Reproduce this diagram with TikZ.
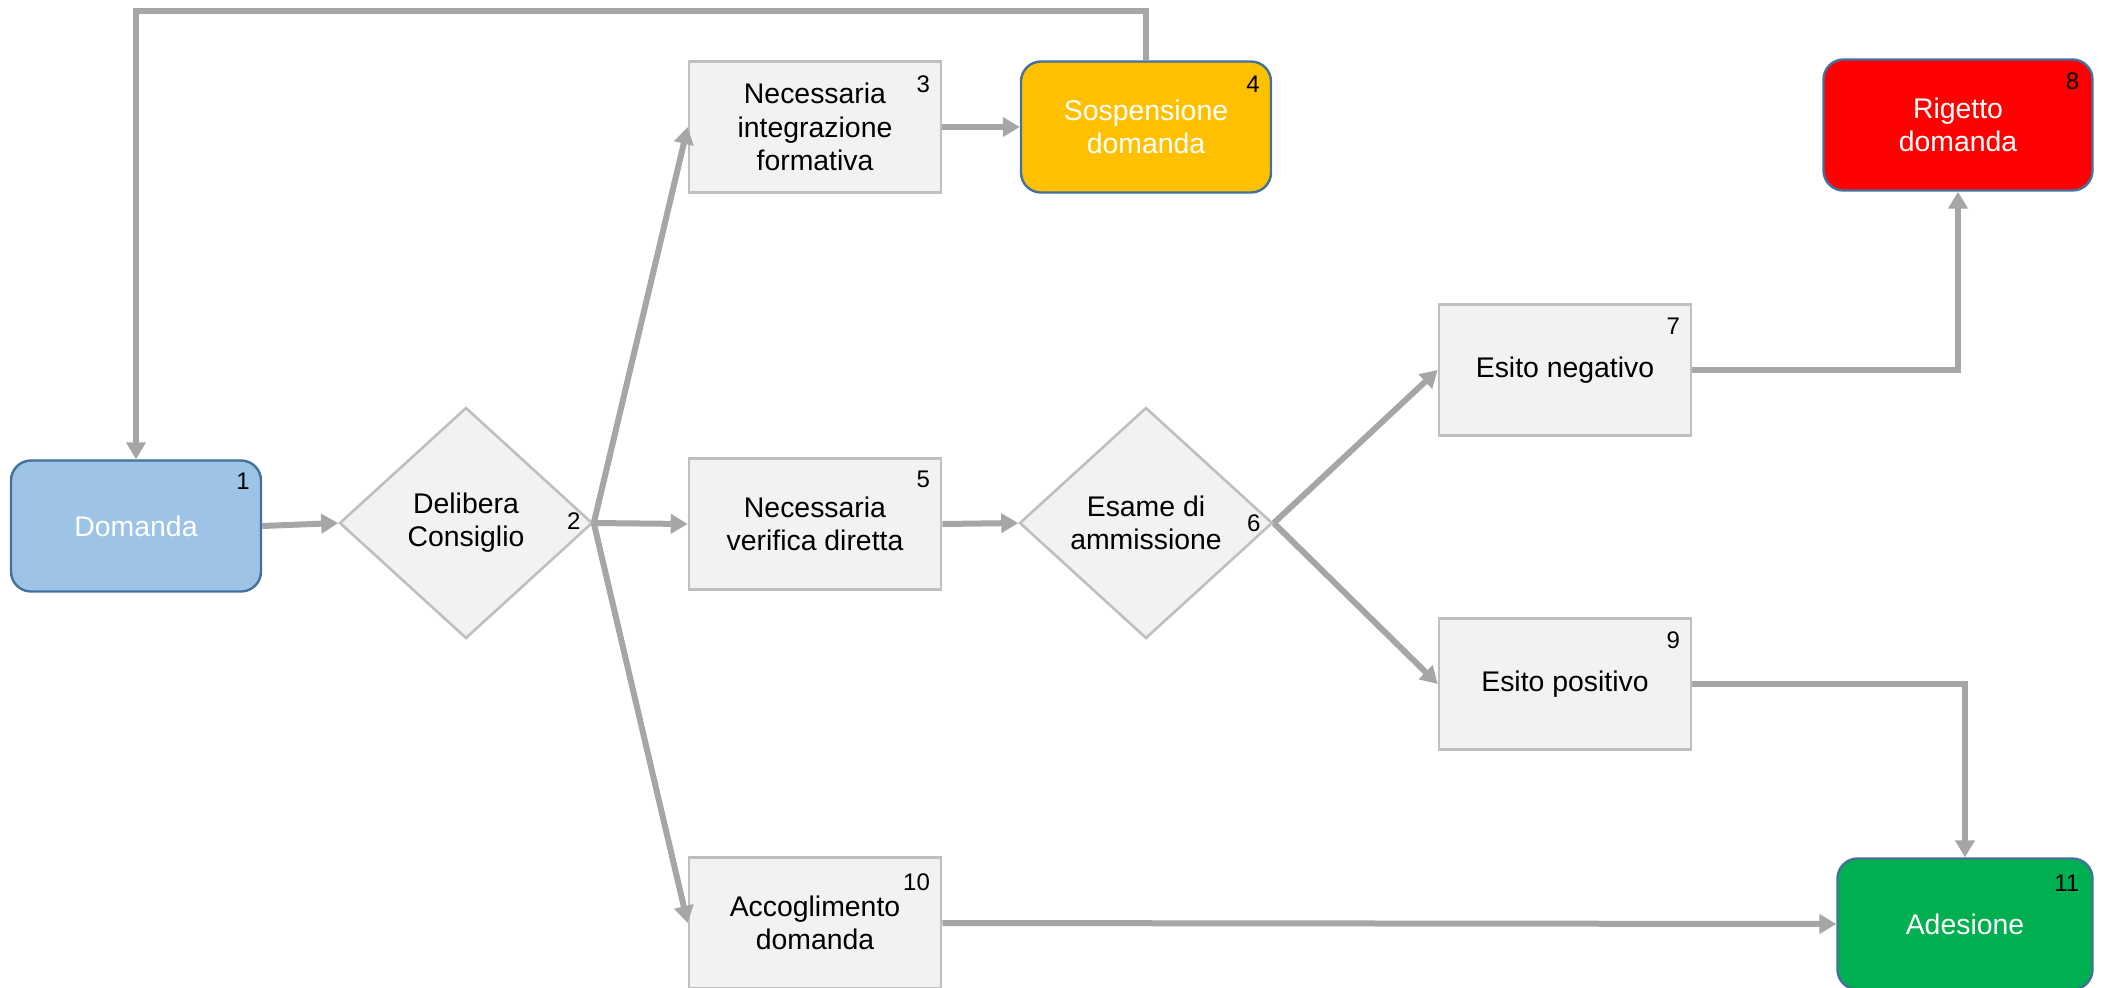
\documentclass[tikz,border=0pt]{standalone}
\usepackage{fontspec}
\setmainfont{Liberation Sans}
\usetikzlibrary{shapes.geometric,arrows.meta}
\definecolor{boxfill}{HTML}{F2F2F2}
\definecolor{boxline}{HTML}{BFBFBF}
\definecolor{conn}{HTML}{A6A6A6}
\definecolor{blueline}{HTML}{41719C}
\definecolor{bluefill}{HTML}{9DC3E6}
\definecolor{orangefill}{HTML}{FFC000}
\definecolor{redfill}{HTML}{FF0000}
\definecolor{greenfill}{HTML}{00B050}
\begin{document}
\begin{tikzpicture}[x=0.5pt,y=-0.5pt,
 txt/.style={font=\fontsize{14.2}{16.6}\selectfont, align=center},
 graybox/.style={txt, draw=boxline, fill=boxfill, line width=1.3pt, minimum width=126pt, minimum height=65.5pt, inner sep=0pt},
 colbox/.style={txt, draw=blueline, line width=1.2pt, rounded corners=10pt, minimum width=125pt, minimum height=65.5pt, inner sep=0pt, text=white},
 dia/.style={txt, diamond, draw=boxline, fill=boxfill, line width=1.3pt, minimum width=126.5pt, minimum height=115.5pt, inner sep=0pt},
 num/.style={font=\fontsize{12}{14}\selectfont, inner sep=0pt, text=black},
 arr/.style={draw=conn, line width=3pt, -{Triangle[length=8.5pt,width=9.5pt]}},
]
\useasboundingbox (0,0) rectangle (2101,987);
\clip (0,0) rectangle (2101,987);

\node[colbox, fill=bluefill] (n1) at (136,526) {Domanda};
\node[dia] (d2) at (466,523) {Delibera\\Consiglio};
\node[graybox] (n3) at (815,127) {Necessaria\\integrazione\\formativa};
\node[colbox, fill=orangefill] (n4) at (1146,127) {Sospensione\\domanda};
\node[graybox] (n5) at (815,524) {Necessaria\\verifica diretta};
\node[dia] (d6) at (1146,523) {Esame di\\ammissione};
\node[graybox] (n7) at (1565,370) {Esito negativo};
\node[colbox, fill=redfill, minimum width=134.5pt] (n8) at (1958,125) {Rigetto\\domanda};
\node[graybox] (n9) at (1565,684) {Esito positivo};
\node[graybox] (n10) at (815,923) {Accoglimento\\domanda};
\node[colbox, fill=greenfill, minimum width=127.5pt] (n11) at (1965,924) {Adesione};

\node[num, anchor=east] (l1) at ([shift={(-12,22)}]n1.north east) {1};
\node[num] (l2) at ([shift={(-20,-2)}]d2.east) {2};
\node[num, anchor=east] (l3) at ([shift={(-12,24)}]n3.north east) {3};
\node[num, anchor=east] (l4) at ([shift={(-12,24)}]n4.north east) {4};
\node[num, anchor=east] (l5) at ([shift={(-12,22)}]n5.north east) {5};
\node[num] (l6) at ([shift={(-20,0)}]d6.east) {6};
\node[num, anchor=east] (l7) at ([shift={(-12,23)}]n7.north east) {7};
\node[num, anchor=east] (l8) at ([shift={(-14,23)}]n8.north east) {8};
\node[num, anchor=east] (l9) at ([shift={(-12,23)}]n9.north east) {9};
\node[num, anchor=east] (l10) at ([shift={(-12,26)}]n10.north east) {10};
\node[num, anchor=east] (l11) at ([shift={(-14,26)}]n11.north east) {11};

\coordinate (top) at (0,11);
\draw[arr] (n1.east) -- (d2.west);
\draw[arr] (d2.east) -- (n3.west);
\draw[arr] (d2.east) -- (n5.west);
\draw[arr] (d2.east) -- (n10.west);
\draw[arr] (n3.east) -- (n4.west);
\draw[arr] (n5.east) -- (d6.west);
\draw[arr] (d6.east) -- (n7.west);
\draw[arr] (d6.east) -- (n9.west);
\draw[arr] (n7.east) -| (n8.south);
\draw[arr] (n9.east) -| (n11.north);
\draw[arr] (n10.east) -- (n11.west);
\draw[arr] (n4.north) |- (n1.north |- top) -- (n1.north);
\end{tikzpicture}
\end{document}
